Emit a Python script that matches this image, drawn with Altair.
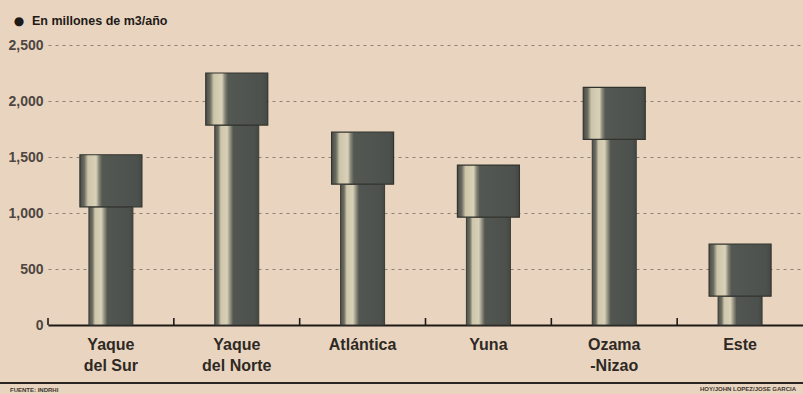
import altair as alt
import pandas as pd

# ---- data ----
regions = ["Yaque\ndel Sur", "Yaque\ndel Norte", "Atlántica", "Yuna", "Ozama\n-Nizao", "Este"]
values = [1520, 2250, 1722, 1428, 2122, 722]      # millones de m3/año
y_ticks = [0, 500, 1000, 1500, 2000, 2500]
bullet_text = "●"
title_text = "En millones de m3/año"
source_text = "FUENTE: INDRHI"
credit_text = "HOY/JOHN LOPEZ/JOSE GARCIA"

# ---- styles ----
CAP = 465          # decorative height of the bar "cap", in axis units
BG = "#e9d5bf"
INK = "#1e1a18"
LABEL_FONT = "Liberation Sans Narrow, Arial Narrow, Liberation Sans, sans-serif"
W, H = 755, 280

df = pd.DataFrame({"region": regions, "value": values})

stem_grad = alt.Gradient(
    gradient="linear", x1=0, x2=1, y1=0, y2=0,
    stops=[
        alt.GradientStop(offset=0.0, color="#4e504a"),
        alt.GradientStop(offset=0.08, color="#6e6e62"),
        alt.GradientStop(offset=0.14, color="#cfc7ac"),
        alt.GradientStop(offset=0.28, color="#d8d0b6"),
        alt.GradientStop(offset=0.36, color="#8a887a"),
        alt.GradientStop(offset=0.42, color="#525651"),
        alt.GradientStop(offset=0.9, color="#4d514d"),
        alt.GradientStop(offset=1.0, color="#444843"),
    ],
)
cap_grad = alt.Gradient(
    gradient="linear", x1=0, x2=1, y1=0, y2=0,
    stops=[
        alt.GradientStop(offset=0.0, color="#4a4c47"),
        alt.GradientStop(offset=0.07, color="#6a6b60"),
        alt.GradientStop(offset=0.13, color="#cdc5aa"),
        alt.GradientStop(offset=0.26, color="#dad2b8"),
        alt.GradientStop(offset=0.31, color="#858476"),
        alt.GradientStop(offset=0.36, color="#545853"),
        alt.GradientStop(offset=0.92, color="#4d514d"),
        alt.GradientStop(offset=1.0, color="#454944"),
    ],
)

x_enc = alt.X(
    "region:N", sort=regions, title=None,
    scale=alt.Scale(paddingInner=0, paddingOuter=0),
    axis=alt.Axis(
        labelExpr="split(datum.label, '\\n')",
        labelAngle=0, labelFont=LABEL_FONT, labelFontSize=16, labelFontWeight="bold",
        labelColor="#2e2925", labelLineHeight=21, labelPadding=11,
        ticks=False, domain=True, domainColor=INK, domainWidth=2.2,
    ),
)
y_scale = alt.Scale(domain=[0, 2500], nice=False)

base = alt.Chart(df)

stems = base.transform_calculate(cap_bottom=f"datum.value - {CAP}").mark_bar(
    width=44, fill=stem_grad, stroke="#3a3b36", strokeWidth=1
).encode(
    x=x_enc,
    y=alt.Y("cap_bottom:Q", scale=y_scale, title=None,
            axis=alt.Axis(values=y_ticks, format=",d", grid=True, gridDash=[3, 4],
                          gridColor="#8c8278", gridWidth=1, domain=False, ticks=False,
                          labelPadding=5, labelFont=LABEL_FONT, labelFontSize=14,
                          labelFontWeight="bold", labelColor="#4e463f")),
    y2=alt.datum(0),
)

caps = base.transform_calculate(cap_bottom=f"datum.value - {CAP}").mark_bar(
    width=62, fill=cap_grad, stroke="#33342f", strokeWidth=1.2
).encode(
    x=alt.X("region:N", sort=regions),
    y=alt.Y("value:Q", scale=y_scale),
    y2="cap_bottom:Q",
)

ticks = base.mark_rule(color=INK, strokeWidth=1.6).encode(
    x=alt.X("region:N", sort=regions, bandPosition=0),
    y=alt.value(H - 7),
    y2=alt.value(H),
)

one = alt.Data(values=[{}])
bullet = alt.Chart(one).mark_text(
    align="center", baseline="middle", font="DejaVu Sans", fontSize=12, color=INK
).encode(x=alt.value(-29), y=alt.value(-24), text=alt.value(bullet_text))
title = alt.Chart(one).mark_text(
    align="left", baseline="alphabetic", font=LABEL_FONT, fontSize=12.5,
    fontWeight="bold", color=INK
).encode(x=alt.value(-16), y=alt.value(-20), text=alt.value(title_text))

bottom_line = alt.Chart(one).mark_rule(color="#2a2522", strokeWidth=2).encode(
    x=alt.value(-48), x2=alt.value(W), y=alt.value(338)
)
source = alt.Chart(one).mark_text(
    align="left", baseline="alphabetic", font=LABEL_FONT, fontSize=6,
    fontWeight="bold", color="#3a3430"
).encode(x=alt.value(-38), y=alt.value(347), text=alt.value(source_text))
credit = alt.Chart(one).mark_text(
    align="left", baseline="alphabetic", font=LABEL_FONT, fontSize=6,
    fontWeight="bold", color="#3a3430"
).encode(x=alt.value(652), y=alt.value(346), text=alt.value(credit_text))

chart = alt.layer(stems, caps, ticks, bullet, title, bottom_line, source, credit).properties(
    width=W, height=H,
    autosize=alt.AutoSizeParams(type="none"),
    padding={"left": 48, "top": 45, "right": 0, "bottom": 69},
    background=BG,
).configure_view(stroke=None)

chart.save("out.html", embed_options={"renderer": "svg", "actions": False})
